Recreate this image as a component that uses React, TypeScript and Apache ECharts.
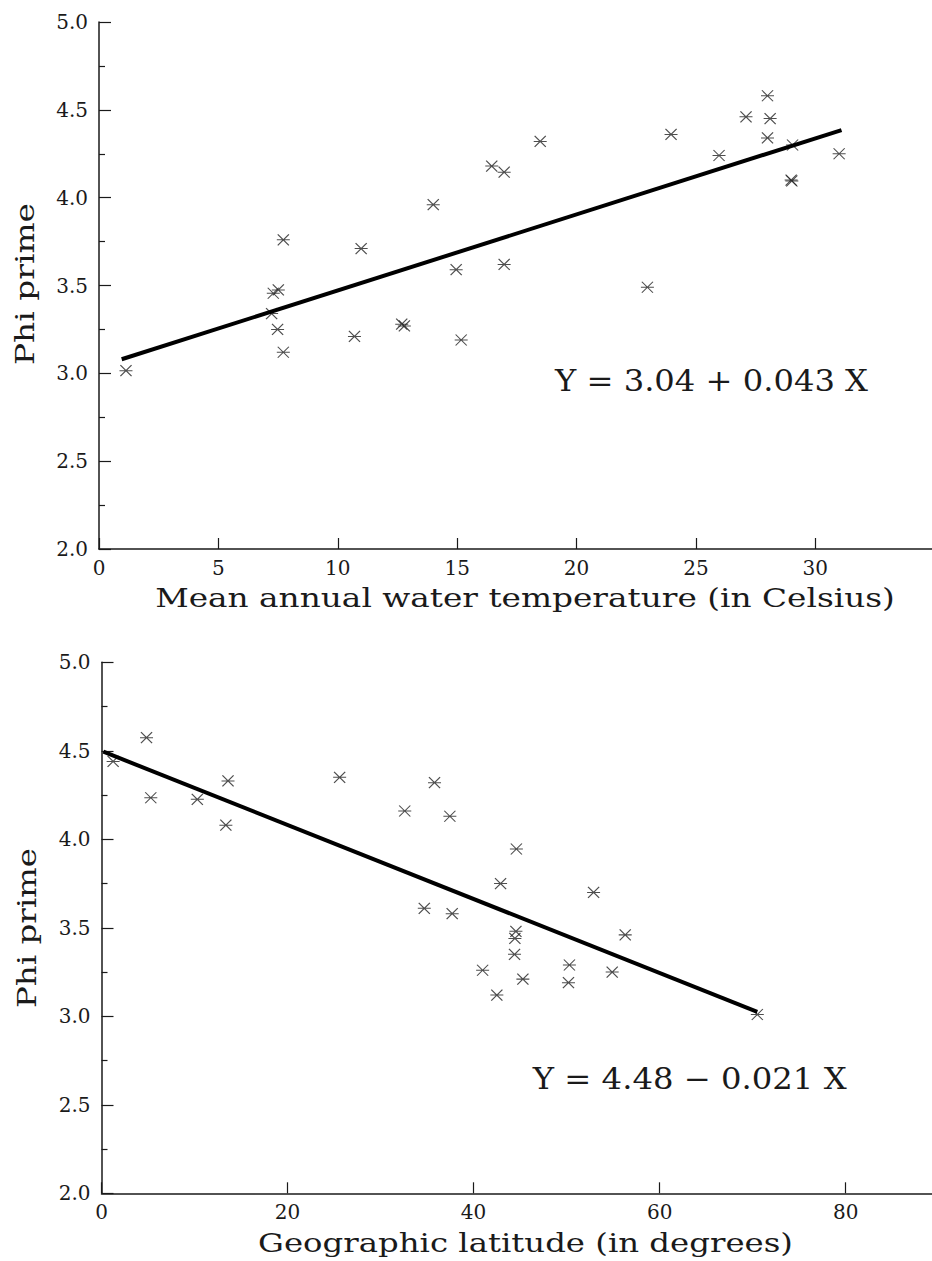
import React, { useEffect, useRef } from "react";
import * as echarts from "echarts";

// ---- data ----
const tempC = [7.72, 10.98, 14.0, 14.96, 7.3, 7.51, 7.23, 1.13, 7.48, 7.72, 10.7, 12.68, 12.79, 15.17, 16.45, 16.97, 18.48, 16.97, 22.97, 23.96, 25.97, 27.1, 28.0, 28.11, 28.0, 29.05, 28.99, 29.02, 31.0];
const phiByTemp = [3.76, 3.71, 3.96, 3.59, 3.456, 3.475, 3.34, 3.015, 3.25, 3.12, 3.21, 3.28, 3.27, 3.19, 4.18, 4.145, 4.32, 3.62, 3.49, 4.36, 4.24, 4.46, 4.58, 4.45, 4.34, 4.3, 4.1, 4.095, 4.25];

const latDeg = [1.25, 4.84, 5.3, 10.3, 13.6, 13.37, 25.6, 32.6, 35.8, 37.45, 34.7, 37.7, 44.6, 42.9, 52.9, 44.55, 44.44, 44.4, 56.3, 40.97, 45.3, 42.5, 50.3, 50.2, 54.9, 70.5];
const phiByLat = [4.44, 4.574, 4.235, 4.226, 4.33, 4.08, 4.35, 4.16, 4.32, 4.13, 3.61, 3.58, 3.945, 3.75, 3.7, 3.48, 3.44, 3.35, 3.46, 3.26, 3.21, 3.12, 3.29, 3.19, 3.25, 3.01];

const tempFitX = [0.95, 31.1];
const tempFitY = [3.08, 4.385];
const latFitX = [0.2, 70.5];
const latFitY = [4.495, 3.025];

const tempTicks = [0, 5, 10, 15, 20, 25, 30];
const latTicks = [0, 20, 40, 60, 80];
const phiTicks = ["2.0", "2.5", "3.0", "3.5", "4.0", "4.5", "5.0"];

const yTitle = "Phi prime";
const xTitleTop = "Mean annual water temperature (in Celsius)";
const xTitleBottom = "Geographic latitude (in degrees)";
const eqTop = "Y = 3.04 + 0.043 X";
const eqBottom = "Y = 4.48 \u2212 0.021 X";

const FONT = '"DejaVu Serif", serif';
const INK = "#1a1a1a";
const STAR = "path://M0,0L12,10M12,0L0,10M-1,5L13,5";

function measure(text: string, size: number) {
  const ctx = document.createElement("canvas").getContext("2d");
  if (!ctx) return 1;
  ctx.font = `${size}px "DejaVu Serif"`;
  return ctx.measureText(text).width;
}

function stretchedText(text: string, size: number, x: number, y: number, target: number, rotate = 0) {
  const w = measure(text, size);
  return {
    type: "text",
    x,
    y,
    rotation: rotate,
    scaleX: target / w,
    silent: true,
    style: {
      text,
      fontSize: size,
      fontFamily: FONT,
      fill: INK,
      align: "center",
      verticalAlign: "middle",
    },
  };
}

function pairs(xs: number[], ys: number[]) {
  return xs.map((x, i) => [x, ys[i]]);
}

function xAxisCfg(grid: number, max: number, ticks: number[], interval: number) {
  return {
    gridIndex: grid,
    type: "value",
    min: 0,
    max,
    interval,
    axisLine: { show: true, onZero: false, lineStyle: { color: INK, width: 1.5 } },
    axisTick: { show: true, inside: true, length: 11, customValues: ticks, lineStyle: { color: INK, width: 1.2 } },
    axisLabel: {
      customValues: ticks,
      fontFamily: FONT,
      fontSize: 20,
      color: INK,
      margin: 9,
    },
    splitLine: { show: false },
  };
}

function yAxisCfg(grid: number) {
  return {
    gridIndex: grid,
    type: "value",
    min: 2,
    max: 5,
    interval: 0.5,
    axisLine: { show: true, lineStyle: { color: INK, width: 1.5 } },
    axisTick: { show: true, inside: true, length: 12, lineStyle: { color: INK, width: 1.2 } },
    minorTick: { show: true, splitNumber: 2, length: 6, lineStyle: { color: INK, width: 1.2 } },
    axisLabel: {
      fontFamily: FONT,
      fontSize: 20,
      color: INK,
      margin: 11,
      formatter: (v: number) => phiTicks.find((t) => Math.abs(parseFloat(t) - v) < 1e-6) || "",
    },
    splitLine: { show: false },
  };
}

function scatterCfg(idx: number, data: number[][]) {
  return {
    type: "scatter",
    xAxisIndex: idx,
    yAxisIndex: idx,
    data,
    symbol: STAR,
    symbolSize: [13, 11],
    itemStyle: { color: "rgba(0,0,0,0)", borderColor: "#222", borderWidth: 1.1 },
    silent: true,
  };
}

function lineCfg(idx: number, data: number[][]) {
  return {
    type: "line",
    xAxisIndex: idx,
    yAxisIndex: idx,
    data,
    symbol: "none",
    lineStyle: { color: "#000", width: 4 },
    silent: true,
  };
}

export default function App() {
  const ref = useRef<HTMLDivElement>(null);
  useEffect(() => {
    if (!ref.current) return;
    const chart = echarts.init(ref.current, undefined, { renderer: "svg" });
    chart.setOption({
      animation: false,
      backgroundColor: "#ffffff",
      grid: [
        { left: 99, top: 22, width: 833, height: 527 },
        { left: 101.5, top: 662.3, width: 830.5, height: 531 },
      ],
      xAxis: [xAxisCfg(0, 34.89, tempTicks, 5), xAxisCfg(1, 89.28, latTicks, 20)],
      yAxis: [yAxisCfg(0), yAxisCfg(1)],
      series: [
        lineCfg(0, pairs(tempFitX, tempFitY)),
        scatterCfg(0, pairs(tempC, phiByTemp)),
        lineCfg(1, pairs(latFitX, latFitY)),
        scatterCfg(1, pairs(latDeg, phiByLat)),
      ],
      graphic: [
        stretchedText(xTitleTop, 26, 525, 598, 740),
        stretchedText(xTitleBottom, 26, 525.5, 1243, 535),
        stretchedText(yTitle, 26, 25.5, 284, 162, Math.PI / 2),
        stretchedText(yTitle, 26, 27, 928, 160, Math.PI / 2),
        stretchedText(eqTop, 29, 711.5, 381.5, 313),
        stretchedText(eqBottom, 29, 689.7, 1079, 314),
      ],
    });
    return () => chart.dispose();
  }, []);
  return (
    <div
      ref={ref}
      style={{ position: "fixed", left: 0, top: 0, width: 932, height: 1261, background: "#fff" }}
    />
  );
}
